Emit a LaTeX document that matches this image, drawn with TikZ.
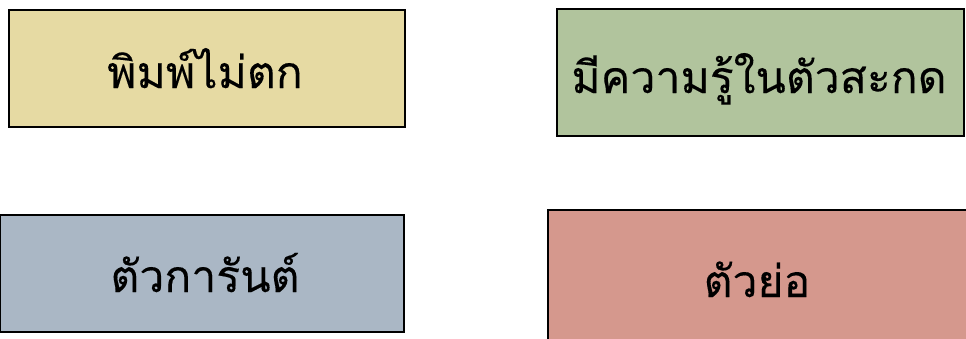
\documentclass[tikz,border=0pt]{standalone}
\usepackage{fontspec}
\newfontfamily\thaifont[Script=Thai,FakeBold=0.2]{Loma}
\definecolor{cA}{RGB}{230,218,163}
\definecolor{cB}{RGB}{177,196,157}
\definecolor{cC}{RGB}{170,183,197}
\definecolor{cD}{RGB}{213,152,141}
\tikzset{
  card/.style={draw=black, line width=1.3pt},
  lbl/.style={anchor=base, inner sep=0pt, font=\thaifont\fontsize{44.5}{46}\selectfont}
}
\begin{document}
\begin{tikzpicture}[x=1pt,y=-1pt]
\useasboundingbox (0,0) rectangle (966,338);
\fill[white] (0,0) rectangle (966,338);
\filldraw[card, fill=cA] (9,10) rectangle (405,127);
\filldraw[card, fill=cB] (557,9) rectangle (964,136);
\filldraw[card, fill=cC] (0.7,215) rectangle (404,332);
\filldraw[card, fill=cD] (548,210) rectangle (970,345);
\node[lbl] (t1) at (205,88) {พิมพ์ไม่ตก};
\node[lbl] (t2) at (759,93) {มีความรู้ในตัวสะกด};
\node[lbl] (t3) at (205,292) {ตัวการันต์};
\node[lbl] (t4) at (757,297) {ตัวย่อ};
\end{tikzpicture}
\end{document}
